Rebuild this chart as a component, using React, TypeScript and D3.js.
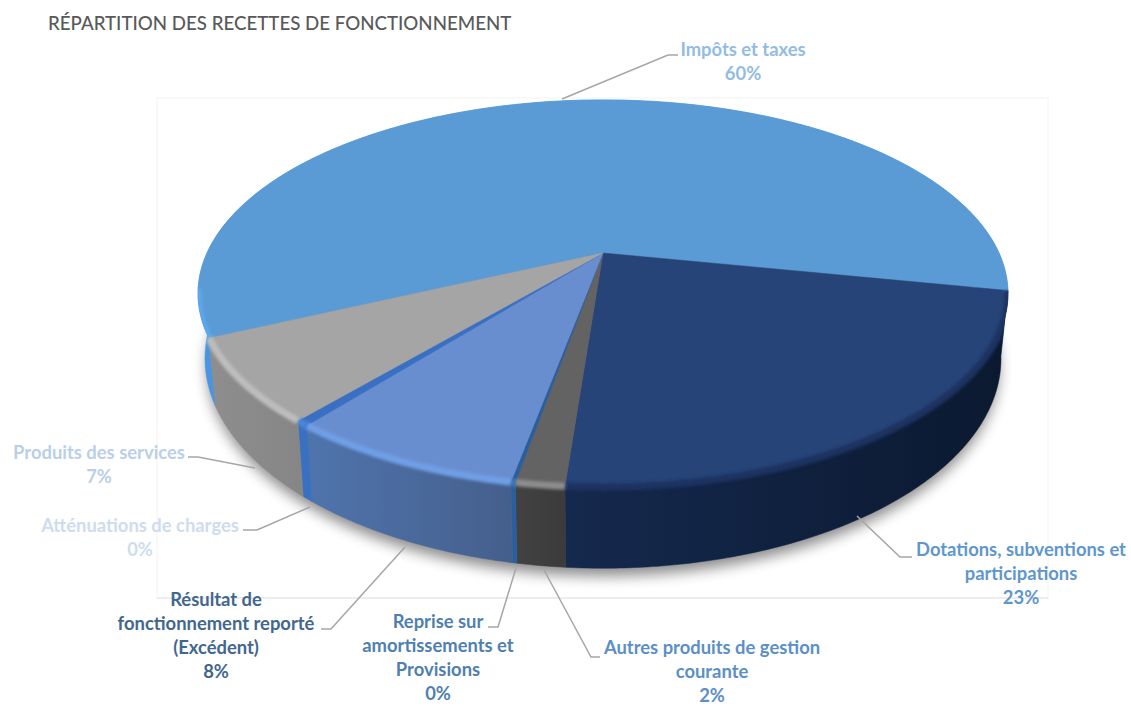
import * as React from 'react';
import * as d3 from 'd3';

const chartTitle = 'RÉPARTITION DES RECETTES DE FONCTIONNEMENT';
const categories = [
    'Impôts et taxes',
    'Dotations, subventions et participations',
    'Autres produits de gestion courante',
    'Reprise sur amortissements et Provisions',
    'Résultat de fonctionnement reporté (Excédent)',
    'Atténuations de charges',
    'Produits des services',
];
const shares = [60.0, 23.1, 1.6, 0.15, 7.8, 0.45, 6.9];

const topColors = ['#5b9bd5', '#264478', '#636363', '#2a5f9f', '#698ed0', '#3a70c4', '#a5a5a5'];
const rimColors = ['#5ca8f0', '#1a3360', '#8c8c8c', '#3d78c0', '#6f9fe6', '#4a86d8', '#bdbdbd'];
const wallLeft = ['#4a94e0', '#15294e', '#424242', '#2a5f9f', '#4f74ad', '#3a70c0', '#8e8e8e'];
const wallRight = ['#4a94e0', '#0b1930', '#3b3b3b', '#2a5f9f', '#455f8c', '#3a70c0', '#868686'];
const labelColors = ['#93bce3', '#5f97cd', '#5b8fc6', '#4f7fae', '#41678f', '#cfdcee', '#bacfe9'];

// wrapped lines + where they sit, one entry per category
const labelLines = [
    ['Impôts et taxes', '60%'],
    ['Dotations, subventions et', 'participations', '23%'],
    ['Autres produits de gestion', 'courante', '2%'],
    ['Reprise sur', 'amortissements et', 'Provisions', '0%'],
    ['Résultat de', 'fonctionnement reporté', '(Excédent)', '8%'],
    ['Atténuations de charges', '0%'],
    ['Produits des services', '7%'],
];
const labelAnchors = [[743, 56], [1021, 556], [712, 654], [438, 628], [216, 606], [140, 532], [99, 459]];
const leaders = [
    [[562, 99], [668, 55], [678, 55]],
    [[857, 516], [900, 557], [912, 557]],
    [[544, 570], [591, 657], [600, 657]],
    [[516, 568], [498, 627], [488, 627]],
    [[405, 547], [331, 629], [321, 629]],
    [[310, 507], [257, 530], [243, 530]],
    [[255, 468], [198, 457], [188, 457]],
];

const width = 1131;
const height = 706;

// perspective of the disc, apex is where the slices meet
const cx = 603;
const apexY = 253;
const persp = 4.78;
const scaleX = 1893;
const scaleY = 885;
// ellipses for the top edge and the bottom edge of the wall
const topCy = 293;
const topRx = 405;
const topRy = 193;
const baseCy = 358;
const baseRx = 398;
const baseRy = 209;

const project = (a: number): [number, number] => {
    const t = a - Math.PI / 2;
    const w = persp - Math.sin(t);
    return [cx + scaleX * Math.cos(t) / w, apexY + scaleY * Math.sin(t) / w];
};
const toBase = (p: [number, number]): [number, number] => [
    cx + (p[0] - cx) * baseRx / topRx,
    baseCy + (p[1] - topCy) * baseRy / topRy,
];

const startAngle = (245.2 * Math.PI) / 180;
const pieGen = d3.pie<number>()
    .sort(null)
    .startAngle(startAngle)
    .endAngle(startAngle + 2 * Math.PI);

const line = d3.line();
// only the part of the rim that faces us gets the bevel
const frontLine = d3.line().defined((p) => p[1] > topCy - 5);

const sampleArc = (a0: number, a1: number) => {
    const n = Math.max(2, Math.ceil((a1 - a0) * 90));
    return d3.range(n + 1).map((i) => project(a0 + ((a1 - a0) * i) / n));
};

export default function App() {
    const slices = pieGen(shares).map((s, i) => {
        const rim = sampleArc(s.startAngle, s.endAngle);
        const base = rim.map(toBase);
        const xs = d3.extent(rim, (p) => p[0]) as [number, number];
        return {
            i,
            top: line([[cx, apexY], ...rim])! + 'Z',
            wall: line([...rim, ...base.slice().reverse()])! + 'Z',
            edge: frontLine(rim)!,
            x0: xs[0],
            x1: xs[1],
        };
    });

    // the big slice goes first so the front walls sit over it
    return (
        <svg width={width} height={height} style={{ position: 'absolute', left: 0, top: 0 }}>
            <defs>
                <filter id="shadowBlur" x="-20%" y="-20%" width="140%" height="140%">
                    <feGaussianBlur stdDeviation="7" />
                </filter>
                <filter id="rimBlur" filterUnits="userSpaceOnUse" x="0" y="0" width={width} height={height}>
                    <feGaussianBlur stdDeviation="1.6" />
                </filter>
                <clipPath id="rimClip">
                    <path d={slices.map((s) => s.top).join('')} />
                    {slices.map((s) => <path key={s.i} d={s.wall} />)}
                </clipPath>
                {slices.map((s) => (
                    <linearGradient
                        key={s.i}
                        id={`wall${s.i}`}
                        gradientUnits="userSpaceOnUse"
                        x1={s.x0}
                        x2={s.x1}
                        y1={0}
                        y2={0}
                    >
                        <stop offset="0" stopColor={wallLeft[s.i]} />
                        <stop offset="1" stopColor={wallRight[s.i]} />
                    </linearGradient>
                ))}
            </defs>

            <rect x={157} y={98} width={891} height={500} fill="#ffffff" stroke="#f8f8f8" strokeWidth={1.5} />
            <line x1={157} x2={1048} y1={598} y2={598} stroke="#e8e8e8" strokeWidth={1.5} />

            <ellipse
                cx={cx}
                cy={baseCy + 9}
                rx={baseRx - 2}
                ry={baseRy}
                fill="#000000"
                opacity={0.45}
                filter="url(#shadowBlur)"
            />

            {slices.map((s) => (
                <path key={s.i} d={s.wall} fill={`url(#wall${s.i})`} stroke={`url(#wall${s.i})`} strokeWidth={0.5} />
            ))}
            {slices.map((s) => (
                <path key={s.i} d={s.top} fill={topColors[s.i]} stroke={topColors[s.i]} strokeWidth={0.5} />
            ))}
            <g clipPath="url(#rimClip)">
                {slices.map((s) => (
                    <path
                        key={s.i}
                        d={s.edge}
                        fill="none"
                        stroke={rimColors[s.i]}
                        strokeWidth={7}
                        filter="url(#rimBlur)"
                    />
                ))}
            </g>

            <text
                x={48}
                y={30}
                fontFamily="Lato, sans-serif"
                fontSize={18.7}
                fontWeight={500}
                fill="#595959"
            >
                {chartTitle}
            </text>

            {leaders.map((pts, i) => (
                <path
                    key={categories[i]}
                    d={line(pts as [number, number][])!}
                    fill="none"
                    stroke="#a6a6a6"
                    strokeWidth={1.5}
                />
            ))}

            {labelLines.map((lines, i) => (
                <text
                    key={categories[i]}
                    textAnchor="middle"
                    fontFamily="Lato, sans-serif"
                    fontSize={18.4}
                    fontWeight={700}
                    fill={labelColors[i]}
                >
                    {lines.map((l, j) => (
                        <tspan key={j} x={labelAnchors[i][0]} y={labelAnchors[i][1] + j * 24}>
                            {l}
                        </tspan>
                    ))}
                </text>
            ))}
        </svg>
    );
}
